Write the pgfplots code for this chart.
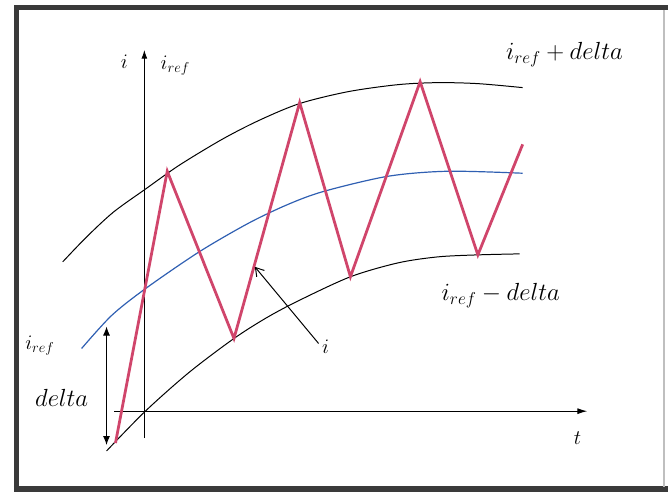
\documentclass[border=0pt]{standalone}
\usepackage{pgfplots}
\pgfplotsset{compat=1.18}
\usetikzlibrary{arrows.meta}
\definecolor{cred}{HTML}{D0456B}
\definecolor{cblue}{HTML}{2F5FB2}
\definecolor{frame}{HTML}{3A3A3A}
\begin{document}
\begin{tikzpicture}
\begin{axis}[width=671pt,height=496pt,scale only axis,
  xmin=0,xmax=671,ymin=0,ymax=496,y dir=reverse,
  axis lines=none,clip=false]
\path (axis cs:0,0) rectangle (axis cs:671,496);
% frame
\addplot[frame,line width=5pt] coordinates {(17,491) (17,8) (671,8)};
\addplot[frame,line width=6pt] coordinates {(14,491) (671,491)};
\addplot[black!25,line width=1.5pt] coordinates {(667,10) (667,489)};
% axes
\addplot[black,line width=1.1pt,-{Latex[length=9pt,width=6pt]}] coordinates {(145,440) (145,50)};
\addplot[black,line width=1.1pt,-{Latex[length=10pt,width=6pt]}] coordinates {(115,413) (590,413)};
% upper curve
\addplot[black,line width=1pt,smooth,tension=0.5] coordinates {(63,263) (87,238) (114,213) (146,190) (180,166) (223,140) (260,121) (301,104) (350,92) (400,85) (440,83) (480,84) (525,88)};
% blue reference
\addplot[cblue,line width=1.2pt,smooth,tension=0.5] coordinates {(82,350) (112,317) (146,290) (200,253) (250,224) (290,205) (326,192) (390,177) (450,172) (525,174)};
% lower curve
\addplot[black,line width=1pt,smooth,tension=0.5] coordinates {(107,453) (146,413) (190,374) (235,340) (268,319) (300,302) (352,278) (400,264) (440,258) (480,256) (522,255)};
% current
\addplot[cred,line width=2.8pt,line join=miter] coordinates {(116,445) (168,172) (235,340) (301,103) (352,278) (422,82) (480,256) (525,145)};
% delta double arrow
\addplot[black,line width=1pt,{Latex[length=9pt,width=7pt]}-{Latex[length=9pt,width=7pt]}] coordinates {(107,328) (107,447)};
% i pointer
\addplot[black,line width=1pt,-{Straight Barb[length=8pt,width=10pt]}] coordinates {(320,345) (256,268)};
% labels
\node[font=\fontsize{24}{28}\selectfont] at (axis cs:567,55) {$i_{ref}+delta$};
\node[font=\fontsize{24}{28}\selectfont] at (axis cs:503,297) {$i_{ref}-delta$};
\node[font=\fontsize{22}{26}\selectfont] at (axis cs:40,347) {$i_{ref}$};
\node[font=\fontsize{24}{28}\selectfont] at (axis cs:62,400) {$delta$};
\node[font=\fontsize{20}{24}\selectfont] at (axis cs:125,62) {$i$};
\node[font=\fontsize{20}{24}\selectfont] at (axis cs:176,66) {$i_{ref}$};
\node[font=\fontsize{22}{26}\selectfont] at (axis cs:327,348) {$i$};
\node[font=\fontsize{22}{26}\selectfont] at (axis cs:580,440) {$t$};
\end{axis}
\end{tikzpicture}
\end{document}
